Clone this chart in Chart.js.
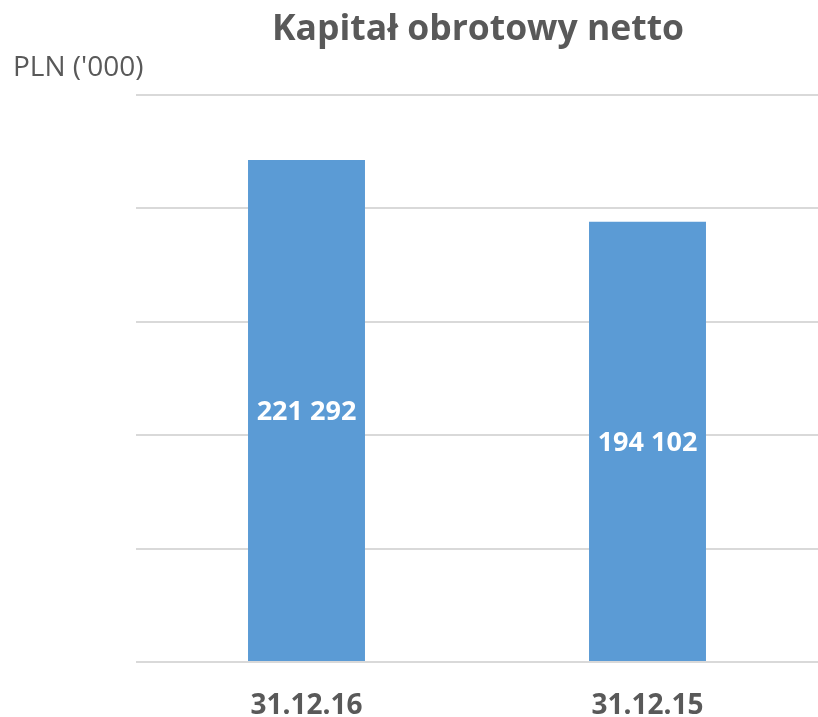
<!DOCTYPE html>
<html>
<head>
<meta charset="utf-8">
<script src="https://cdn.jsdelivr.net/npm/chart.js@4"></script>
<style>
  body { margin: 0; background: #fff; }
  #wrap { width: 818px; height: 717px; }
</style>
</head>
<body>
<div id="wrap"><canvas id="chart" width="818" height="717"></canvas></div>
<script>
const chartTitle = "Kapitał obrotowy netto";
const unitLabel = "PLN ('000)";
const categories = ["31.12.16", "31.12.15"];
const values = [221292, 194102];
const yMax = 250000;
const yStep = 50000;

const textColor = "#595959";
const fontFamily = "'Open Sans', sans-serif";

function formatValue(v) {
  return String(v).replace(/\B(?=(\d{3})+(?!\d))/g, " ");
}

const textPlugin = {
  id: "texts",
  afterDraw(chart) {
    const ctx = chart.ctx;
    ctx.save();
    ctx.fillStyle = textColor;
    ctx.textBaseline = "middle";

    ctx.font = "bold 35.5px " + fontFamily;
    ctx.textAlign = "center";
    ctx.fillText(chartTitle, 478, 30);

    ctx.font = "28px " + fontFamily;
    ctx.textAlign = "left";
    ctx.fillText(unitLabel, 13, 68);

    // value labels in the middle of each bar
    ctx.fillStyle = "#ffffff";
    ctx.font = "bold 27px " + fontFamily;
    ctx.textAlign = "center";
    const meta = chart.getDatasetMeta(0);
    meta.data.forEach((bar, i) => {
      ctx.fillText(formatValue(values[i]), bar.x, (bar.y + bar.base) / 2 + 2);
    });
    ctx.restore();
  },
};

new Chart(document.getElementById("chart"), {
  type: "bar",
  data: {
    labels: categories,
    datasets: [
      {
        data: values,
        backgroundColor: "#5b9bd5",
        categoryPercentage: 1,
        barPercentage: 0.343,
      },
    ],
  },
  options: {
    responsive: false,
    animation: false,
    layout: { padding: { left: 136, right: 0, top: 95, bottom: 0 } },
    plugins: {
      legend: { display: false },
      tooltip: { enabled: false },
      title: { display: false },
    },
    scales: {
      x: {
        grid: { display: false },
        border: { display: false },
        ticks: {
          color: textColor,
          font: { family: "Open Sans", size: 28, weight: "bold" },
          padding: 19,
          maxRotation: 0,
        },
        afterFit(scale) {
          scale.height = 55;
        },
        afterSetDimensions(scale) {
          // categories run a little past the canvas edge in the original
          scale.right += 5;
          scale.width += 5;
        },
      },
      y: {
        min: 0,
        max: yMax,
        ticks: { display: false, stepSize: yStep },
        grid: { color: "#d9d9d9", lineWidth: 2, drawTicks: false },
        border: { display: false },
        afterFit(scale) {
          scale.width = 0;
        },
      },
    },
  },
  plugins: [textPlugin],
});
</script>
</body>
</html>
